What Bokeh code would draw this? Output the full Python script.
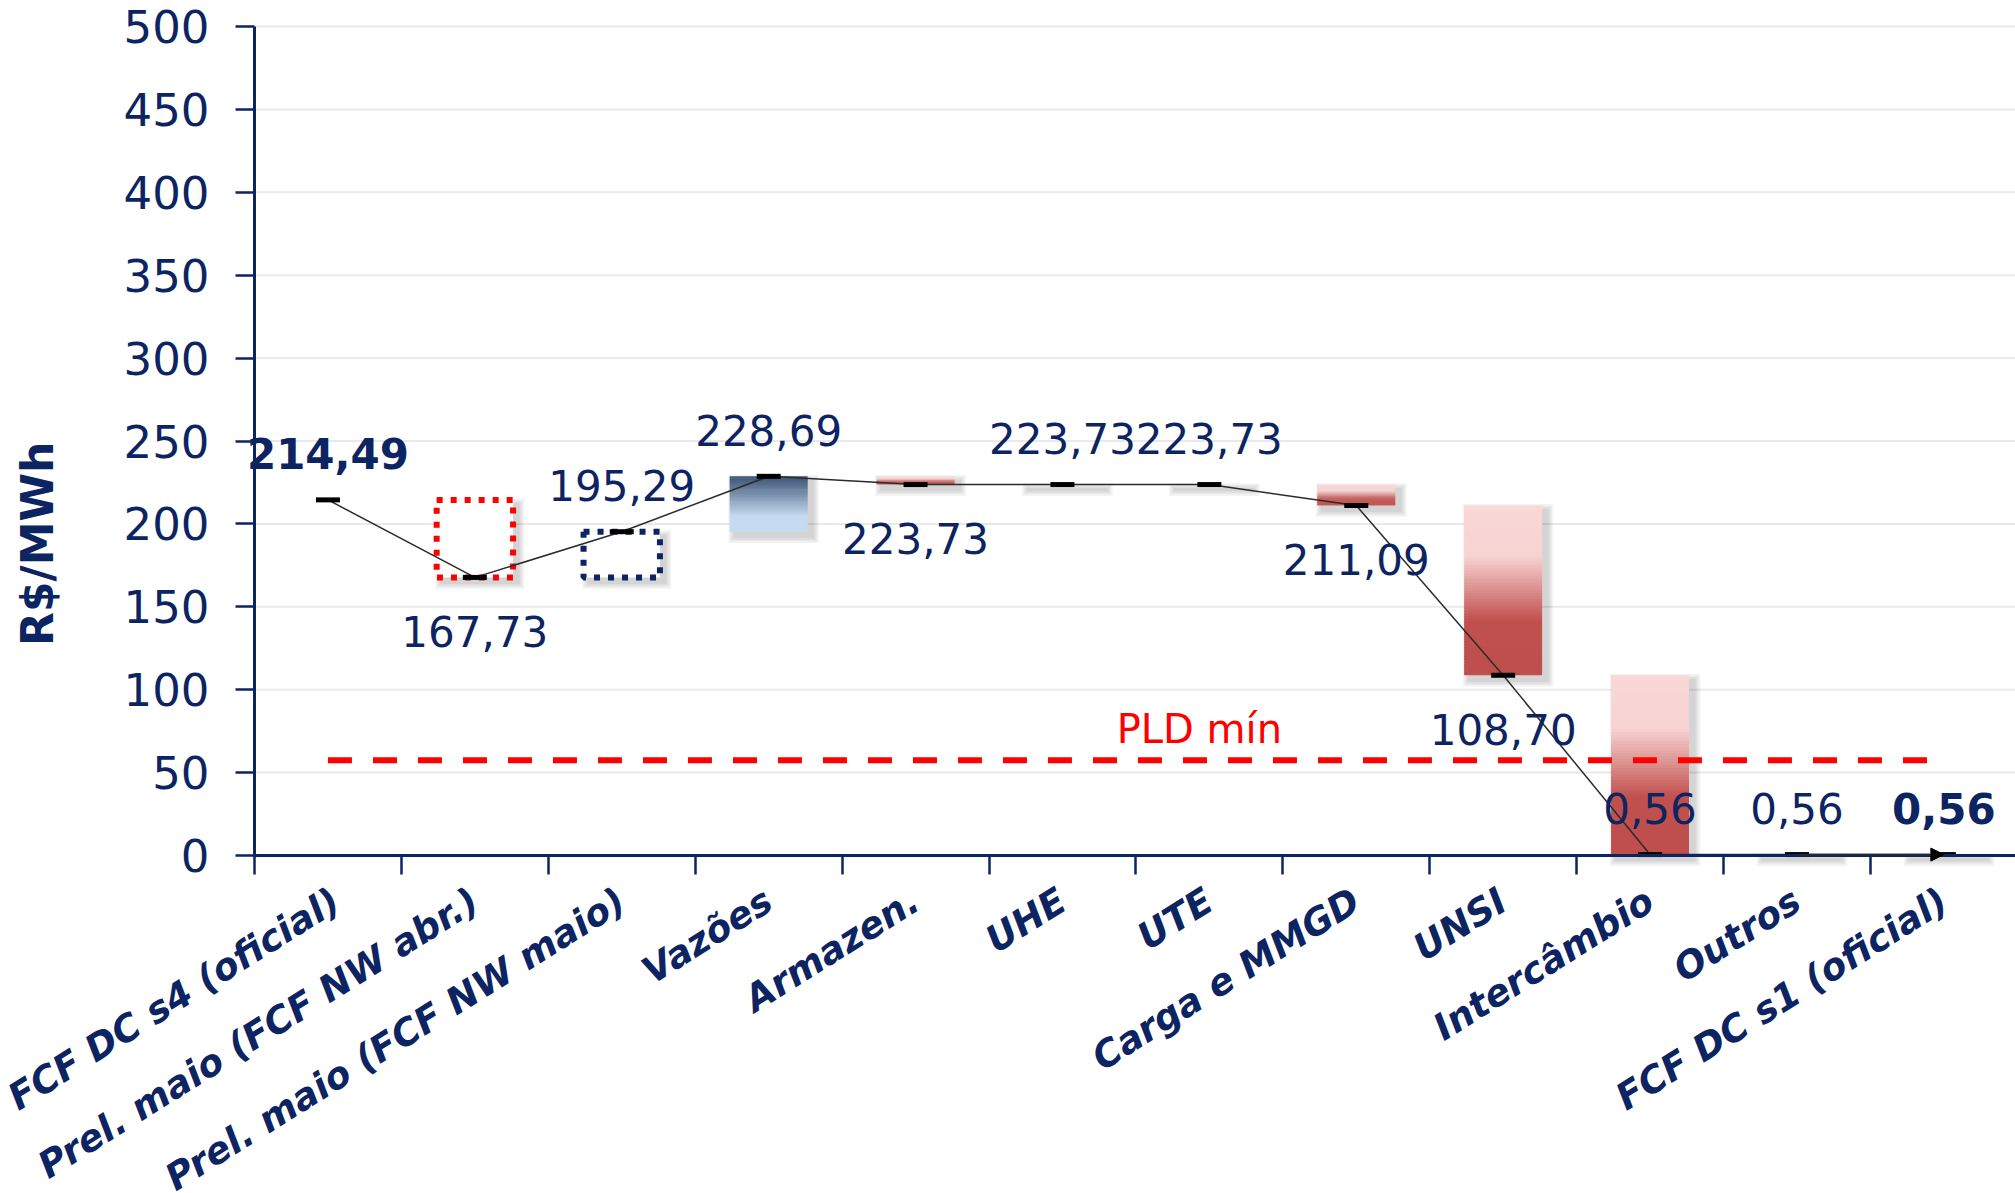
import math
from bokeh.plotting import figure
from bokeh.models import Range1d, FixedTicker, ColumnDataSource, Arrow, NormalHead, Label
from bokeh.embed import file_html
from bokeh.resources import INLINE
from bokeh.core.properties import value

# ---------------- data ----------------
categories = ["FCF DC s4 (oficial)", "Prel. maio (FCF NW abr.)", "Prel. maio (FCF NW maio)",
              "Vazões", "Armazen.", "UHE", "UTE", "Carga e MMGD", "UNSI",
              "Intercâmbio", "Outros", "FCF DC s1 (oficial)"]
levels = [214.49, 167.73, 195.29, 228.69, 223.73, 223.73, 223.73, 211.09, 108.70, 0.56, 0.56, 0.56]
value_labels = ["214,49", "167,73", "195,29", "228,69", "223,73", "223,73", "223,73",
                "211,09", "108,70", "0,56", "0,56", "0,56"]
pld_min = 57.5
pld_label = "PLD mín"
y_axis_title = "R$/MWh"
y_ticks = [0, 50, 100, 150, 200, 250, 300, 350, 400, 450, 500]

# ---------------- style ----------------
NAVY = "#0c2461"
FONT = "DejaVu Sans"
label_side = ["above", "below", "above", "above", "below", "above", "above",
              "below", "below", "above", "above", "above"]
label_bold = [True] + [False] * 10 + [True]
bar_kind = ["none", "dotted_red", "dotted_navy"] + ["fill"] * 9

n = len(categories)
centers = [i + 0.5 for i in range(n)]

W, H = 2015, 1193
# pixel geometry of the plotting area inside the canvas
AX_LEFT, AX_TOP, AX_BOTTOM = 254, 26, 855
cat_px = 146.9
px_y = 500.0 / (AX_BOTTOM - AX_TOP)        # data units per pixel (y)
px_x = 1.0 / cat_px                         # data units per pixel (x)
x_range = Range1d(-AX_LEFT * px_x, (W - AX_LEFT) * px_x)
y_range = Range1d(-(H - AX_BOTTOM) * px_y, 500 + AX_TOP * px_y)

p = figure(width=W, height=H, x_range=x_range, y_range=y_range,
           output_backend="svg", toolbar_location=None, min_border=0)
p.outline_line_color = None
p.background_fill_color = "white"
p.border_fill_color = "white"
p.xgrid.visible = False
p.ygrid.visible = False

# horizontal grid lines, only across the plotting area
p.segment(x0=[0] * len(y_ticks), x1=[x_range.end] * len(y_ticks), y0=y_ticks, y1=y_ticks,
          line_color="#e9e9e9", line_width=2)

# ---------------- helpers ----------------
def hex2rgb(h):
    h = h.lstrip("#")
    return tuple(int(h[i:i + 2], 16) for i in (0, 2, 4))

def grad(stops, t):
    for (t0, c0), (t1, c1) in zip(stops[:-1], stops[1:]):
        if t <= t1:
            f = 0 if t1 == t0 else (t - t0) / (t1 - t0)
            a, b = hex2rgb(c0), hex2rgb(c1)
            return "#%02x%02x%02x" % tuple(int(round(a[k] + (b[k] - a[k]) * f)) for k in range(3))
    return stops[-1][1]

red_stops = [(0.0, "#f9d8d7"), (0.30, "#f7d3d2"), (0.68, "#c0504d"), (1.0, "#bf4f4c")]
blue_stops = [(0.0, "#3a5273"), (0.72, "#c6dbf2"), (1.0, "#c6dbf2")]

BAR_W = 0.53
DOT_W = 0.52

# ---------------- shadows ----------------
sh = dict(left=[], right=[], top=[], bottom=[])
for i in range(1, n):
    lo, hi = min(levels[i - 1], levels[i]), max(levels[i - 1], levels[i])
    w = BAR_W if bar_kind[i] == "fill" else DOT_W
    for k in range(1, 5):
        e = 1.6 * k
        sh["left"].append(centers[i] - w / 2 + 5 * px_x - e * px_x)
        sh["right"].append(centers[i] + w / 2 + 5 * px_x + e * px_x)
        sh["top"].append(hi - 5 * px_y + e * px_y)
        sh["bottom"].append(lo - 5 * px_y - e * px_y)
p.quad(source=ColumnDataSource(sh), left="left", right="right", top="top", bottom="bottom",
       fill_color="black", fill_alpha=0.045, line_color=None)

# ---------------- gradient bars ----------------
gb = dict(left=[], right=[], top=[], bottom=[], color=[])
N = 60
for i in range(1, n):
    if bar_kind[i] != "fill":
        continue
    lo, hi = min(levels[i - 1], levels[i]), max(levels[i - 1], levels[i])
    if hi - lo <= 0:
        continue
    stops = blue_stops if levels[i] > levels[i - 1] else red_stops
    for j in range(N):
        t0, t1 = j / N, (j + 1) / N
        gb["left"].append(centers[i] - BAR_W / 2)
        gb["right"].append(centers[i] + BAR_W / 2)
        gb["top"].append(hi - t0 * (hi - lo))
        gb["bottom"].append(hi - min(1.0, t1 + 0.6 / N) * (hi - lo))
        gb["color"].append(grad(stops, (t0 + t1) / 2))
p.quad(source=ColumnDataSource(gb), left="left", right="right", top="top", bottom="bottom",
       fill_color="color", line_color=None)

# ---------------- dotted boxes ----------------
for i, col in ((1, "#ff0000"), (2, NAVY)):
    lo, hi = min(levels[i - 1], levels[i]), max(levels[i - 1], levels[i])
    p.quad(left=[centers[i] - DOT_W / 2], right=[centers[i] + DOT_W / 2], top=[hi], bottom=[lo],
           fill_color="white", line_color=col, line_width=6, line_dash="6 8")

# ---------------- PLD line ----------------
p.line([centers[0], centers[-1]], [pld_min, pld_min], line_color="#ff0000", line_width=6,
       line_dash="24 21")
p.text(x=[centers[6]], y=[pld_min], text=[pld_label], text_font=value(FONT), text_font_size="40px",
       text_color="#ff0000", text_align="center", text_baseline="middle", x_offset=-10, y_offset=-31)

# ---------------- connector + markers ----------------
p.line(centers, levels, line_color="#2b2b2b", line_width=1.5)
p.add_layout(Arrow(end=NormalHead(size=13, fill_color="black", line_color="black", line_width=1),
                   x_start=centers[-2], y_start=levels[-2], x_end=centers[-1], y_end=levels[-1],
                   line_color="#2b2b2b", line_width=1.5))
p.scatter(centers, levels, marker="dash", size=24, line_width=5, line_color="black")

# ---------------- value labels ----------------
for bold in (False, True):
    src = dict(x=[], y=[], t=[], off=[])
    for i in range(n):
        if label_bold[i] != bold:
            continue
        src["x"].append(centers[i])
        src["y"].append(levels[i])
        src["t"].append(value_labels[i])
        src["off"].append(-46 if label_side[i] == "above" else 54)
    p.text(source=ColumnDataSource(src), x="x", y="y", text="t", y_offset="off",
           text_font=value(FONT), text_font_size="42px", text_color=NAVY,
           text_font_style="bold" if bold else "normal",
           text_align="center", text_baseline="middle")

# ---------------- axes (drawn at the data origin) ----------------
xa = p.xaxis[0]
xa.fixed_location = 0
xa.bounds = (0, n)
xa.ticker = FixedTicker(ticks=centers, minor_ticks=list(range(n + 1)))
xa.major_label_overrides = {c: name for c, name in zip(centers, categories)}
xa.major_label_orientation = 0.56
xa.major_label_text_font = FONT
xa.major_label_text_font_size = "37px"
xa.major_label_text_font_style = "bold italic"
xa.major_label_text_color = NAVY
xa.major_label_standoff = 23
xa.axis_line_color = NAVY
xa.axis_line_width = 3
xa.major_tick_line_color = None
xa.major_tick_out = 19
xa.major_tick_in = 0
xa.minor_tick_line_color = NAVY
xa.minor_tick_line_width = 2.5
xa.minor_tick_out = 19
xa.minor_tick_in = 0

ya = p.yaxis[0]
ya.fixed_location = 0
ya.bounds = (0, 500)
ya.ticker = FixedTicker(ticks=y_ticks)
ya.major_label_text_font = FONT
ya.major_label_text_font_size = "45px"
ya.major_label_text_color = NAVY
ya.major_label_standoff = 26
ya.axis_line_color = NAVY
ya.axis_line_width = 3
ya.major_tick_line_color = NAVY
ya.major_tick_line_width = 2.5
ya.major_tick_out = 19
ya.major_tick_in = 0
ya.minor_tick_line_color = None

# y-axis title, left of the tick labels
p.add_layout(Label(x=-1.48, y=188, text=y_axis_title, angle=math.pi / 2,
                   text_font=FONT, text_font_size="44px", text_font_style="bold",
                   text_color=NAVY, text_align="center", text_baseline="middle"))

open("out.html", "w").write(file_html(p, INLINE))
